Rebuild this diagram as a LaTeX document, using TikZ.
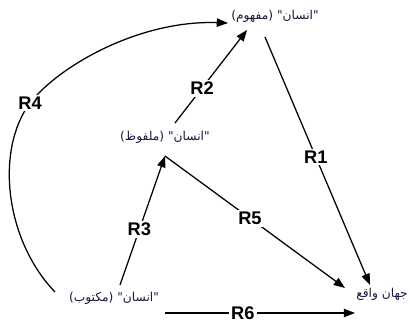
\documentclass[tikz,border=0pt]{standalone}
\usepackage{fontspec}
\setmainfont{Liberation Sans}
\newfontfamily\farsi[Script=Arabic]{DejaVu Sans}
\TeXXeTstate=1
\usetikzlibrary{arrows.meta}
\definecolor{txtnavy}{RGB}{25,25,60}
\begin{document}
\begin{tikzpicture}[x=0.025cm,y=-0.025cm,
	term/.style={inner sep=0pt,text=txtnavy,font=\farsi\fontsize{8.7}{10}\selectfont},
	rel/.style={fill=white,inner sep=1.5pt,font=\bfseries\fontsize{13}{15}\selectfont},
	arr/.style={-{Triangle[length=8pt,width=6pt]},line width=0.9pt}]
	\useasboundingbox (0,0) rectangle (410,324);
	
	\node[term] (mafhum) at (275,16) {\beginR"انسان" (مفهوم)\endR};
	\node[term] (malfuz) at (165,137) {\beginR"انسان" (ملفوظ)\endR};
	\node[term] (maktub) at (114,298) {\beginR"انسان" (مکتوب)\endR};
	\node[term] (jahan) at (382,294) {\beginR جهان واقع\endR};
	
	\coordinate (r1s) at (265,37);
	\coordinate (r1e) at (370,285);
	\coordinate (r2s) at (175,123);
	\coordinate (r2e) at (247,30);
	\coordinate (r3s) at (120,285);
	\coordinate (r3e) at (165,156);
	\coordinate (r5e) at (345,288);
	\coordinate (r6s) at (165,313);
	\coordinate (r6e) at (355,313);
	\coordinate (r4s) at (55,292);
	\coordinate (r4e) at (228,23);
	
	\draw[arr] (r1s) -- node[rel,pos=0.484] {R1} (r1e);
	\draw[arr] (r2s) -- node[rel,pos=0.376] {R2} (r2e);
	\draw[arr] (r3s) -- node[rel,pos=0.43] {R3} (r3e);
	\draw[arr] (r3e) -- node[rel,pos=0.472] {R5} (r5e);
	\draw[arr] (r6s) -- node[rel,pos=0.41] {R6} (r6e);
	\draw[arr] (r4s) .. controls (5,240) and (-5,150) .. (30,103) node[rel] {R4}
		.. controls (60,65) and (140,20) .. (r4e);
\end{tikzpicture}
\end{document}
